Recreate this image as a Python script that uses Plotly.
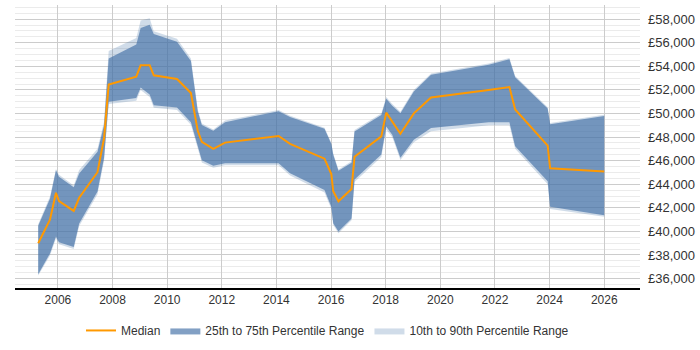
import plotly.graph_objects as go

years = [2005.28, 2005.71, 2005.93, 2006.04, 2006.58, 2006.78, 2007.45, 2007.69, 2007.86,
         2008.87, 2009.03, 2009.36, 2009.51, 2010.36, 2010.87, 2011.12, 2011.27, 2011.69,
         2012.12, 2014.08, 2014.50, 2015.76, 2016.01, 2016.08, 2016.27, 2016.75, 2016.86,
         2017.84, 2018.02, 2018.24, 2018.54, 2019.03, 2019.66, 2021.77, 2022.53, 2022.74,
         2023.93, 2024.02, 2026.0]

median = [39000, 41000, 43270, 42580, 41740, 42850, 45020, 47900, 52450,
          53120, 54100, 54100, 53240, 52930, 51740, 48530, 47590, 47000,
          47530, 48090, 47420, 46170, 44860, 43400, 42550, 43600, 46330,
          48060, 50070, 49320, 48280, 50010, 51350, 52000, 52240, 50340,
          47280, 45360, 45080]

p75 = [40470, 42770, 45190, 44640, 43750, 44920, 46750, 49000, 54660,
       55850, 57250, 57520, 56750, 56080, 54460, 50200, 49030, 48530,
       49260, 50200, 49700, 48700, 47420, 46500, 45140, 45830, 48480,
       49870, 51260, 50650, 50010, 51870, 53290, 54130, 54600, 53070,
       50430, 49090, 49780]

p25 = [36370, 38130, 39570, 39070, 38680, 40680, 43390, 46250, 50990,
       51320, 52200, 51620, 50700, 50510, 49260, 47090, 46030, 45560,
       45780, 45780, 44940, 43520, 42080, 40700, 39990, 41100, 44400,
       46530, 48900, 48200, 46250, 47780, 48760, 49260, 49260, 47230,
       44250, 42080, 41380]

p90 = [40600, 42950, 45300, 44800, 43900, 45200, 47000, 49300, 55300,
       56410, 57880, 58080, 56970, 56330, 54660, 50350, 49150, 48650,
       49400, 50300, 49800, 48800, 47520, 46600, 45250, 45950, 48600,
       50000, 51400, 50800, 50150, 52000, 53400, 54230, 54700, 53170,
       50530, 49200, 49900]

p10 = [36250, 37950, 39400, 38900, 38500, 40450, 43150, 46000, 50800,
       51070, 52000, 51400, 50480, 50300, 49050, 46900, 45850, 45400,
       45600, 45600, 44750, 43300, 41900, 40550, 39850, 40950, 44200,
       46300, 48650, 48000, 46050, 47550, 48500, 49000, 49000, 47000,
       44000, 41900, 41250]

light = "rgba(69,114,167,0.25)"
dark = "rgba(69,114,167,0.67)"

fig = go.Figure()
fig.add_trace(go.Scatter(x=years, y=p10, mode="lines", line=dict(width=0),
                         showlegend=False, hoverinfo="skip"))
fig.add_trace(go.Scatter(x=years, y=p90, mode="lines", line=dict(width=0),
                         fill="tonexty", fillcolor=light,
                         name="10th to 90th Percentile Range", legendrank=3))
fig.add_trace(go.Scatter(x=years, y=p25, mode="lines", line=dict(width=0),
                         showlegend=False, hoverinfo="skip"))
fig.add_trace(go.Scatter(x=years, y=p75, mode="lines", line=dict(width=0),
                         fill="tonexty", fillcolor=dark,
                         name="25th to 75th Percentile Range", legendrank=2))
fig.add_trace(go.Scatter(x=years, y=median, mode="lines",
                         line=dict(color="#ff9900", width=2),
                         name="Median", legendrank=1))

fig.update_layout(
    width=700, height=350,
    margin=dict(l=15, r=58, t=5, b=58),
    paper_bgcolor="white", plot_bgcolor="white",
    font=dict(family="Liberation Sans, Arial, sans-serif", size=12, color="#333"),
    legend=dict(orientation="h", x=0.5, xanchor="center", y=-0.15, yanchor="middle",
                traceorder="normal", font=dict(size=12, color="#333"), itemwidth=30),
)
fig.update_xaxes(
    range=[2004.43, 2027.31], tickmode="linear", tick0=2006, dtick=2,
    showgrid=True, gridcolor="#cccccc", gridwidth=1,
    showline=True, linecolor="#000", linewidth=1.5,
    ticks="", zeroline=False, tickfont=dict(size=12, color="#333"),
)
fig.update_yaxes(
    range=[35200, 59200], side="right", tickmode="linear", tick0=36000, dtick=2000,
    tickprefix="£", tickformat=",d",
    showgrid=True, gridcolor="#cccccc", gridwidth=1,
    minor=dict(dtick=500, tick0=36000, showgrid=True, gridcolor="#ebebeb", gridwidth=1),
    showline=False, zeroline=False, ticks="", ticklabelstandoff=7,
    tickfont=dict(size=13, color="#333"),
)

fig.write_html("out.html")
